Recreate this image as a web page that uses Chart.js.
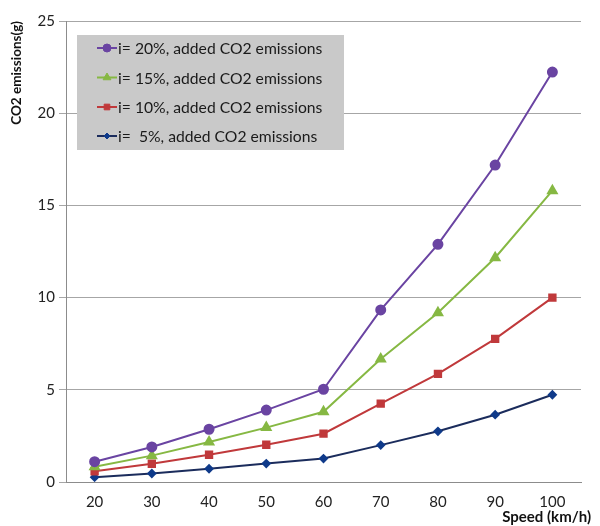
<!DOCTYPE html>
<html>
<head>
<meta charset="utf-8">
<script src="https://cdn.jsdelivr.net/npm/chart.js@4"></script>
<style>
html,body{margin:0;padding:0;background:#fff;}
#wrap{width:600px;height:526px;position:relative;}
</style>
</head>
<body>
<div id="wrap"><canvas id="c" width="600" height="526"></canvas></div>
<script>
const speeds = ['20','30','40','50','60','70','80','90','100'];
const seriesNames = [
  'i= 20%, added CO2 emissions',
  'i= 15%, added CO2 emissions',
  'i= 10%, added CO2 emissions',
  'i=  5%, added CO2 emissions'
];
const i20 = [1.1, 1.9, 2.86, 3.9, 5.03, 9.33, 12.89, 17.19, 22.23];
const i15 = [0.83, 1.43, 2.17, 2.95, 3.81, 6.67, 9.18, 12.16, 15.8];
const i10 = [0.58, 0.99, 1.48, 2.02, 2.62, 4.25, 5.86, 7.76, 10.0];
const i5  = [0.26, 0.46, 0.72, 1.0, 1.27, 2.0, 2.75, 3.65, 4.73];
const yTicks = [0, 5, 10, 15, 20, 25];
const xTitle = 'Speed (km/h)';
const yTitle = 'CO2 emissions(g)';

const colors = ['#6a44a2', '#86b843', '#c0393b', '#1b2c5c'];
const markerColors = ['#6a44a2', '#86b843', '#c0393b', '#0f3a8a'];
const shapes = ['circle', 'triangle', 'rect', 'rectRot'];
const radii = [4.5, 5, 4.5, 3.5];
const values = [i20, i15, i10, i5];

const FONT = 'Lato, "Open Sans", sans-serif';

const legendBox = {
  id: 'legendBox',
  beforeDatasetsDraw(chart) {
    const ctx = chart.ctx;
    ctx.save();
    ctx.fillStyle = '#c9c9c9';
    ctx.fillRect(77, 35, 267, 115);
    ctx.restore();
  },
  afterDatasetsDraw(chart) {
    const ctx = chart.ctx;
    ctx.save();
    const rows = [48, 77.5, 107, 136];
    for (let k = 0; k < 4; k++) {
      const y = rows[k];
      ctx.strokeStyle = colors[k];
      ctx.lineWidth = 2;
      ctx.beginPath();
      ctx.moveTo(97, y);
      ctx.lineTo(117, y);
      ctx.stroke();
      ctx.fillStyle = markerColors[k];
      ctx.strokeStyle = markerColors[k];
      ctx.lineWidth = 1;
      Chart.helpers.drawPoint(ctx, {
        pointStyle: shapes[k], radius: radii[k] - 0.5, rotation: 0, borderWidth: 1
      }, 107, y);
      ctx.fillStyle = '#1a1a1a';
      ctx.font = '15.7px ' + FONT;
      ctx.textBaseline = 'middle';
      ctx.textAlign = 'left';
      ctx.fillText(seriesNames[k], 118, y + 1);
    }
    // x axis title
    ctx.fillStyle = '#111';
    ctx.font = 'bold 15px ' + FONT;
    ctx.textAlign = 'right';
    ctx.textBaseline = 'middle';
    ctx.fillText(xTitle, 591, 517);
    ctx.restore();
  }
};

new Chart(document.getElementById('c'), {
  type: 'line',
  data: {
    labels: speeds,
    datasets: values.map((v, k) => ({
      label: seriesNames[k],
      data: v,
      borderColor: colors[k],
      backgroundColor: markerColors[k],
      pointBackgroundColor: markerColors[k],
      pointBorderColor: markerColors[k],
      borderWidth: 2,
      pointStyle: shapes[k],
      pointRadius: radii[k],
      tension: 0
    }))
  },
  options: {
    responsive: false,
    animation: false,
    devicePixelRatio: 1,
    layout: { padding: { top: 21, right: 19, left: 0, bottom: 0 } },
    plugins: {
      legend: { display: false },
      tooltip: { enabled: false }
    },
    scales: {
      x: {
        type: 'category',
        offset: true,
        grid: { display: false, drawTicks: false },
        border: { display: true, color: '#8c8c8c', width: 1 },
        ticks: { color: '#222', font: { family: FONT, size: 15 }, padding: 11, maxRotation: 0 },
        afterFit(s) { s.height = 44; }
      },
      y: {
        min: 0, max: 25,
        afterBuildTicks(s) { s.ticks = yTicks.map(v => ({ value: v })); },
        grid: { color: '#a6a6a6', lineWidth: 1, drawTicks: true, tickLength: 7 },
        border: { display: true, color: '#8c8c8c', width: 1 },
        ticks: { color: '#222', font: { family: FONT, size: 15 }, padding: 4 },
        title: {
          display: true, text: yTitle, align: 'end',
          color: '#111', font: { family: FONT, size: 13.5, weight: 'bold' },
          padding: { top: 9, bottom: 0 }
        },
        afterFit(s) { s.width = 66; }
      }
    }
  },
  plugins: [legendBox]
});
</script>
</body>
</html>
